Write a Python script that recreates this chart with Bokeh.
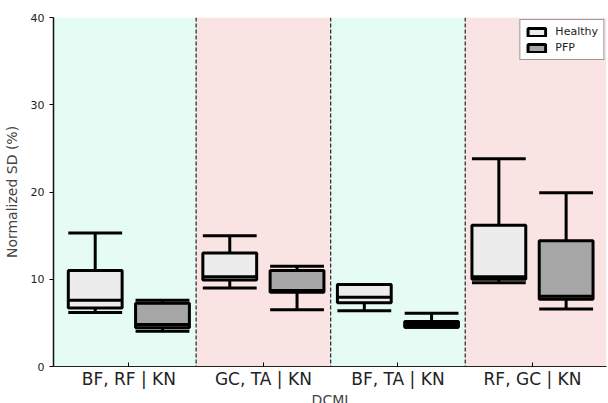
from bokeh.plotting import figure
from bokeh.models import ColumnDataSource, BoxAnnotation, Span, Legend, LegendItem, FixedTicker
from bokeh.embed import file_html
from bokeh.resources import INLINE

categories = ["BF, RF | KN", "GC, TA | KN", "BF, TA | KN", "RF, GC | KN"]
groups = ["Healthy", "PFP"]

# five-number summaries per category: [lower whisker, Q1, median, Q3, upper whisker]
healthy_low = [6.2, 9.0, 6.4, 9.6]
healthy_q1 = [6.7, 9.9, 7.3, 10.0]
healthy_med = [7.6, 10.3, 7.95, 10.3]
healthy_q3 = [11.0, 13.0, 9.4, 16.2]
healthy_high = [15.3, 15.0, 9.4, 23.8]

pfp_low = [4.05, 6.5, 4.5, 6.6]
pfp_q1 = [4.45, 8.5, 4.5, 7.7]
pfp_med = [4.8, 8.7, 4.8, 8.05]
pfp_q3 = [7.25, 11.0, 5.15, 14.4]
pfp_high = [7.6, 11.5, 6.1, 19.9]

colors = {"Healthy": "#ECECEC", "PFP": "#A6A6A6"}
offsets = {"Healthy": -0.25, "PFP": 0.25}
FONT = "DejaVu Sans"

p = figure(width=607, height=410, x_range=(-0.56, 3.55), y_range=(0, 40),
           output_backend="svg", toolbar_location=None,
           min_border_left=48, min_border_top=17, min_border_right=1, min_border_bottom=30)
p.outline_line_color = None
p.background_fill_color = "white"

# background bands
band_colors = ["#E4FCF3", "#FAE3E3", "#E4FCF3", "#FAE3E3"]
for i, c in enumerate(band_colors):
    left = None if i == 0 else i - 0.5
    right = None if i == len(band_colors) - 1 else i + 0.5
    p.add_layout(BoxAnnotation(left=left, right=right, fill_color=c, fill_alpha=1.0,
                               line_color=None, level="underlay"))

p.xgrid.grid_line_color = "#000000"
p.xgrid.grid_line_alpha = 0.08
p.ygrid.grid_line_color = "#000000"
p.ygrid.grid_line_alpha = 0.08

for i in range(len(categories) - 1):
    p.add_layout(Span(location=i + 0.5, dimension="height", line_color="#222222",
                      line_dash="4 2", line_width=1.2))

data = {
    "Healthy": (healthy_low, healthy_q1, healthy_med, healthy_q3, healthy_high),
    "PFP": (pfp_low, pfp_q1, pfp_med, pfp_q3, pfp_high),
}
legend_items = []
box_w = 0.4
cap_w = 0.4
for g in groups:
    low, q1, med, q3, high = data[g]
    xs = [i + offsets[g] for i in range(len(categories))]
    src = ColumnDataSource(dict(x=xs, low=low, q1=q1, med=med, q3=q3, high=high,
                                x0=[x - cap_w / 2 for x in xs], x1=[x + cap_w / 2 for x in xs]))
    p.segment(x0="x", y0="q3", x1="x", y1="high", source=src, line_color="black", line_width=3)
    p.segment(x0="x", y0="low", x1="x", y1="q1", source=src, line_color="black", line_width=3)
    p.segment(x0="x0", y0="high", x1="x1", y1="high", source=src, line_color="black", line_width=3)
    p.segment(x0="x0", y0="low", x1="x1", y1="low", source=src, line_color="black", line_width=3)
    r = p.vbar(x="x", width=box_w, bottom="q1", top="q3", source=src,
               fill_color=colors[g], line_color="black", line_width=3)
    p.segment(x0="x0", y0="med", x1="x1", y1="med", source=src, line_color="black", line_width=3)
    legend_items.append(LegendItem(label=g, renderers=[r]))

legend = Legend(items=legend_items, location="top_right")
legend.label_text_font = FONT
legend.label_text_font_size = "11px"
legend.label_text_color = "#222222"
legend.border_line_color = "#333333"
legend.border_line_width = 1
legend.background_fill_color = "white"
legend.background_fill_alpha = 1.0
legend.glyph_width = 22
legend.glyph_height = 10
legend.label_height = 10
legend.label_standoff = 8
legend.spacing = 3
legend.padding = 5
legend.margin = 2
p.add_layout(legend)

p.xaxis.ticker = FixedTicker(ticks=list(range(len(categories))))
p.xaxis.major_label_overrides = {i: c for i, c in enumerate(categories)}
p.xaxis.axis_label = "DCMI"
p.xaxis.major_tick_in = 4
p.xaxis.major_tick_out = 0
p.xaxis.minor_tick_line_color = None
p.xaxis.major_label_text_font_size = "17px"
p.xaxis.major_label_text_font = FONT
p.xaxis.major_label_text_color = "#222222"
p.xaxis.major_label_standoff = 2
p.xaxis.axis_label_text_font = FONT
p.xaxis.axis_label_text_font_size = "14px"
p.xaxis.axis_label_text_font_style = "normal"
p.xaxis.axis_label_standoff = 0
p.xaxis.axis_line_color = "#222222"

p.yaxis.ticker = FixedTicker(ticks=[0, 10, 20, 30, 40])
p.yaxis.axis_label = "Normalized SD (%)"
p.yaxis.major_tick_in = 0
p.yaxis.major_tick_out = 4
p.yaxis.minor_tick_line_color = None
p.yaxis.major_label_text_font_size = "11px"
p.yaxis.major_label_text_font = FONT
p.yaxis.major_label_text_color = "#222222"
p.yaxis.axis_label_text_font = FONT
p.yaxis.axis_label_text_font_size = "14px"
p.yaxis.axis_label_text_font_style = "normal"
p.yaxis.axis_label_standoff = 8
p.yaxis.axis_line_color = "#111111"
p.yaxis.axis_line_width = 1.5

open("out.html", "w").write(file_html(p, INLINE))
